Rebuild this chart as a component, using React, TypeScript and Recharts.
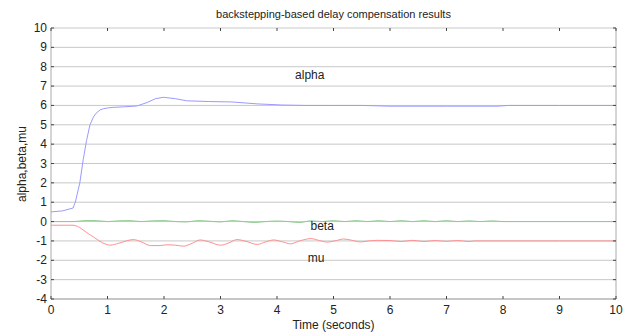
import React from 'react';
import { LineChart, Line, XAxis, YAxis, CartesianGrid, ReferenceLine, ReferenceDot } from 'recharts';

const W = 627;
const H = 332;
const M_TOP = 28;
const M_RIGHT = 11;
const Y_W = 51;
const X_H = 33;
const PLOT_W = W - Y_W - M_RIGHT;
const PLOT_H = H - M_TOP - X_H;

const FONT = '"Liberation Sans", Arial, sans-serif';

const xTicks = [0, 1, 2, 3, 4, 5, 6, 7, 8, 9, 10];
const yTicks = [-4, -3, -2, -1, 0, 1, 2, 3, 4, 5, 6, 7, 8, 9, 10];

const alphaT = [0, 0.2, 0.39, 0.43, 0.51, 0.57, 0.63, 0.69, 0.75, 0.8, 0.87, 0.93, 1.0, 1.1, 1.3, 1.52, 1.7, 1.85, 1.99, 2.2, 2.4, 2.8, 3.2, 3.65, 4.1, 4.5, 5, 5.5, 6, 7, 7.9, 8.1, 9, 10];
const alphaV = [0.5, 0.55, 0.7, 1.0, 2.0, 3.2, 4.2, 5.0, 5.4, 5.6, 5.77, 5.83, 5.87, 5.9, 5.93, 5.97, 6.15, 6.35, 6.42, 6.35, 6.24, 6.2, 6.18, 6.08, 6.02, 6.0, 6.0, 6.0, 5.96, 5.96, 5.96, 6.0, 6.0, 6.0];

const betaT = [0, 0.4, 0.6, 0.8, 1.0, 1.2, 1.4, 1.6, 1.8, 2.0, 2.2, 2.4, 2.6, 2.8, 3.0, 3.2, 3.4, 3.6, 3.8, 4.0, 4.2, 4.4, 4.6, 4.8, 5.0, 5.2, 5.4, 5.6, 5.8, 6.0, 6.2, 6.4, 6.6, 6.8, 7.0, 7.2, 7.4, 7.6, 7.8, 8, 10];
const betaV = [0, 0, 0.05, 0.05, 0.0, 0.04, 0.05, 0.0, 0.04, 0.05, 0.0, -0.02, 0.05, 0.02, -0.02, 0.05, 0.0, -0.05, 0.0, 0.03, 0.0, -0.05, 0.04, 0.0, 0.05, 0.0, 0.05, 0.0, 0.05, 0.0, 0.05, 0.0, 0.05, 0.0, 0.05, 0.0, 0.04, 0.0, 0.04, 0, 0];

const muT = [0, 0.39, 0.7, 0.99, 1.05, 1.2, 1.46, 1.6, 1.76, 1.93, 2.05, 2.2, 2.35, 2.5, 2.64, 2.8, 3.0, 3.15, 3.29, 3.45, 3.65, 3.8, 3.94, 4.1, 4.24, 4.4, 4.6, 4.75, 4.89, 5.05, 5.18, 5.33, 5.48, 5.63, 5.78, 6.0, 6.2, 6.4, 6.6, 6.8, 7.0, 7.2, 7.4, 7.5, 8, 9, 10];
const muV = [-0.19, -0.19, -0.7, -1.19, -1.22, -1.12, -0.93, -1.05, -1.24, -1.24, -1.2, -1.22, -1.27, -1.12, -0.95, -1.05, -1.22, -1.1, -0.93, -1.02, -1.18, -1.05, -0.95, -1.05, -1.15, -1.0, -0.88, -0.98, -1.06, -0.98, -0.9, -0.97, -1.05, -1.0, -0.97, -0.98, -1.03, -0.97, -1.03, -0.98, -1.02, -0.98, -1.03, -1.0, -1.0, -1.0, -1.0];

const labelNames = ['alpha', 'beta', 'mu'];
const labelX = [4.58, 4.8, 4.69];
const labelY = [7.57, -0.23, -1.88];

const toData = (t: number[], v: number[]) => t.map((x, i) => ({ t: x, v: v[i] }));
const alphaData = toData(alphaT, alphaV);
const betaData = toData(betaT, betaV);
const muData = toData(muT, muV);

const XTick = (props: any) => {
  const { x, y, payload } = props;
  return (
    <g>
      <line x1={x} y1={y} x2={x} y2={y - 3} stroke="#444" strokeWidth={1} />
      <line x1={x} y1={y - PLOT_H} x2={x} y2={y - PLOT_H + 3} stroke="#444" strokeWidth={1} />
      <text x={x} y={y + 15} textAnchor="middle" fontSize={12} fontFamily={FONT} fill="#222">{payload.value}</text>
    </g>
  );
};

const YTick = (props: any) => {
  const { x, y, payload } = props;
  return (
    <g>
      <line x1={x} y1={y} x2={x + 3} y2={y} stroke="#444" strokeWidth={1} />
      <line x1={x + PLOT_W} y1={y} x2={x + PLOT_W - 3} y2={y} stroke="#444" strokeWidth={1} />
      <text x={x - 4} y={y + 4} textAnchor="end" fontSize={12} fontFamily={FONT} fill="#222">{payload.value}</text>
    </g>
  );
};

export default function App() {
  return (
    <div style={{ position: 'absolute', left: 0, top: 0, width: W, height: H, background: '#fff' }}>
      <div style={{ position: 'absolute', left: Y_W, top: 8, width: PLOT_W, textAlign: 'center', fontFamily: FONT, fontSize: 11, lineHeight: '12px', color: '#222' }}>
        backstepping-based delay compensation results
      </div>
      <LineChart width={W} height={H} margin={{ top: M_TOP, right: M_RIGHT, left: 0, bottom: 0 }}>
        <CartesianGrid horizontal vertical={false} stroke="#c8c8c8" />
        <XAxis
          dataKey="t"
          type="number"
          domain={[0, 10]}
          ticks={xTicks}
          allowDuplicatedCategory={false}
          height={X_H}
          tickSize={0}
          tickMargin={0}
          tickLine={false}
          tick={<XTick />}
          stroke="#aaa"
          label={{ value: 'Time (seconds)', position: 'insideBottom', offset: 3, fontSize: 12, fontFamily: FONT, fill: '#222' }}
        />
        <YAxis
          type="number"
          domain={[-4, 10]}
          ticks={yTicks}
          width={Y_W}
          tickSize={0}
          tickMargin={0}
          tickLine={false}
          tick={<YTick />}
          stroke="#aaa"
          interval={0}
          label={() => (
            <text transform="translate(22,164) rotate(-90)" textAnchor="middle" dominantBaseline="central" fontSize={12} fontFamily={FONT} fill="#222">alpha,beta,mu</text>
          )}
        />
        <ReferenceLine x={10} stroke="#aaa" />
        <Line data={betaData} dataKey="v" type="monotone" stroke="#8fcc8f" strokeWidth={1} dot={false} isAnimationActive={false} />
        <Line data={muData} dataKey="v" type="monotone" stroke="#ff8f8f" strokeWidth={1} dot={false} isAnimationActive={false} />
        <Line data={alphaData} dataKey="v" type="linear" stroke="#9a9aff" strokeWidth={1} dot={false} isAnimationActive={false} />
        {labelNames.map((n, i) => (
          <ReferenceDot key={n} x={labelX[i]} y={labelY[i]} r={0} stroke="none" fill="none"
            label={{ value: n, position: 'center', fontSize: 12, fontFamily: FONT, fill: '#222' }} />
        ))}
      </LineChart>
    </div>
  );
}
